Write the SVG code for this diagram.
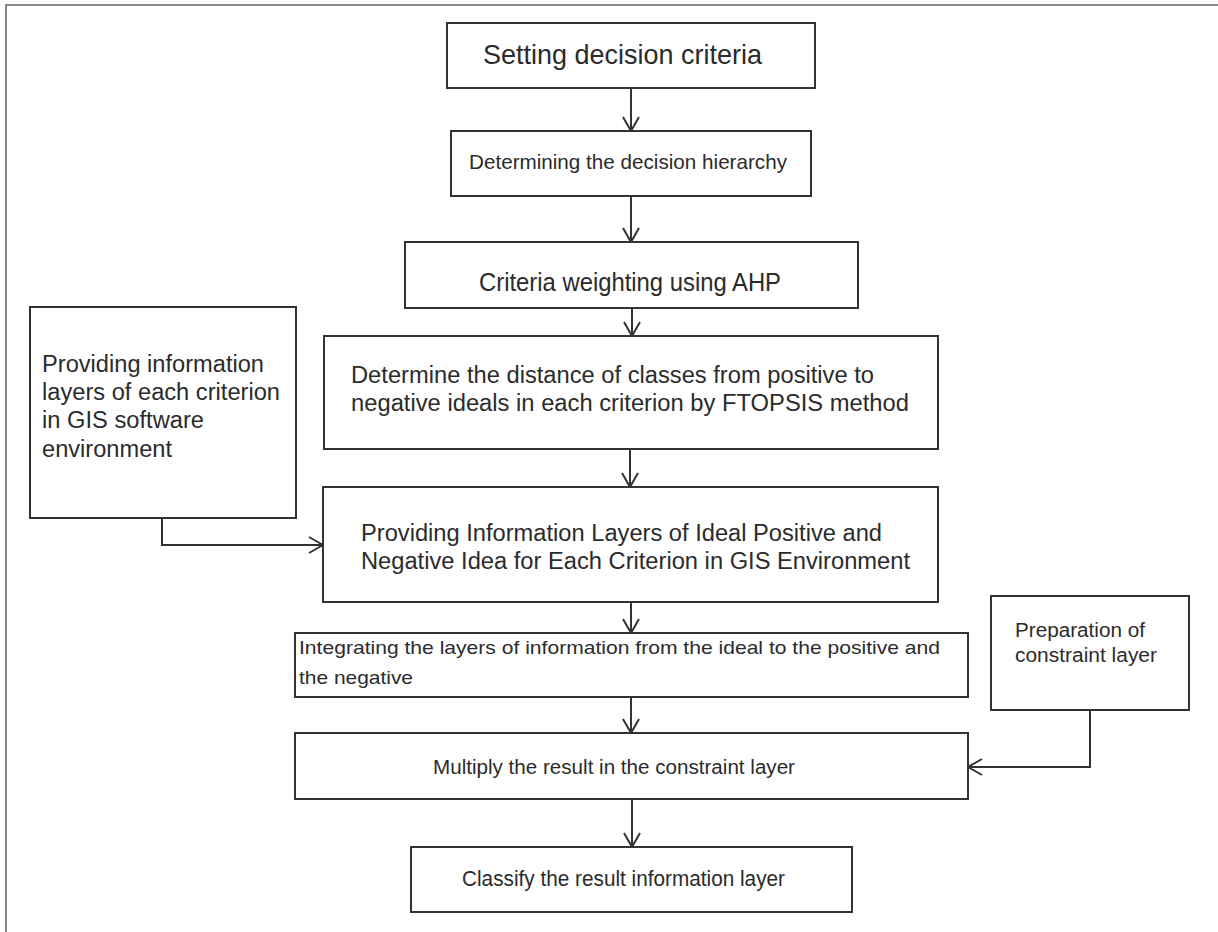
<svg xmlns="http://www.w3.org/2000/svg" width="1218" height="932" viewBox="0 0 1218 932">
<style>
.box{fill:#fff;stroke:#333;stroke-width:2}
.t{font-family:"Liberation Sans",Arial,sans-serif;fill:#2b2b2b}
.conn{fill:none;stroke:#333;stroke-width:2}
.frame{stroke:#888;stroke-width:2;fill:none}
</style>
<defs>
<marker id="arr" markerUnits="userSpaceOnUse" markerWidth="16" markerHeight="18" viewBox="0 0 16 18" refX="15" refY="9" orient="auto">
<path d="M1,1 L15,9 L1,17" fill="none" stroke="#333" stroke-width="2"/>
</marker>
</defs>
<rect width="1218" height="932" fill="#fff"/>
<path class="frame" d="M6,932 V5 H1218"/>
<g id="n1"><rect class="box" x="447" y="23" width="368" height="65"/><text class="t" x="483" y="64" font-size="28" textLength="279" lengthAdjust="spacingAndGlyphs">Setting decision criteria</text></g>
<g id="n2"><rect class="box" x="451" y="131" width="360" height="65"/><text class="t" x="469" y="169" font-size="21" textLength="318" lengthAdjust="spacingAndGlyphs">Determining the decision hierarchy</text></g>
<g id="n3"><rect class="box" x="405" y="242" width="453" height="66"/><text class="t" x="479" y="291" font-size="25" textLength="302" lengthAdjust="spacingAndGlyphs">Criteria weighting using AHP</text></g>
<g id="n4"><rect class="box" x="324" y="336" width="614" height="113"/><text class="t" font-size="23"><tspan x="351" y="383" textLength="523" lengthAdjust="spacingAndGlyphs">Determine the distance of classes from positive to</tspan><tspan x="351" y="411" textLength="558" lengthAdjust="spacingAndGlyphs">negative ideals in each criterion by FTOPSIS method</tspan></text></g>
<g id="n5"><rect class="box" x="323" y="487" width="615" height="115"/><text class="t" font-size="23.5"><tspan x="361" y="541" textLength="521" lengthAdjust="spacingAndGlyphs">Providing Information Layers of Ideal Positive and</tspan><tspan x="361" y="569" textLength="549" lengthAdjust="spacingAndGlyphs">Negative Idea for Each Criterion in GIS Environment</tspan></text></g>
<g id="nleft"><rect class="box" x="30" y="307" width="266" height="211"/><text class="t" font-size="23"><tspan x="42" y="372" textLength="222" lengthAdjust="spacingAndGlyphs">Providing information</tspan><tspan x="42" y="400" textLength="238" lengthAdjust="spacingAndGlyphs">layers of each criterion</tspan><tspan x="42" y="428" textLength="162" lengthAdjust="spacingAndGlyphs">in GIS software</tspan><tspan x="42" y="457" textLength="130" lengthAdjust="spacingAndGlyphs">environment</tspan></text></g>
<g id="n6"><rect class="box" x="295" y="633" width="673" height="64"/><text class="t" font-size="19"><tspan x="299" y="654" textLength="641" lengthAdjust="spacingAndGlyphs">Integrating the layers of information from the ideal to the positive and</tspan><tspan x="299" y="684" textLength="114" lengthAdjust="spacingAndGlyphs">the negative</tspan></text></g>
<g id="nright"><rect class="box" x="991" y="596" width="198" height="114"/><text class="t" font-size="20"><tspan x="1015" y="637" textLength="130" lengthAdjust="spacingAndGlyphs">Preparation of</tspan><tspan x="1015" y="662" textLength="142" lengthAdjust="spacingAndGlyphs">constraint layer</tspan></text></g>
<g id="n7"><rect class="box" x="295" y="733" width="673" height="66"/><text class="t" x="433" y="774" font-size="19.5" textLength="362" lengthAdjust="spacingAndGlyphs">Multiply the result in the constraint layer</text></g>
<g id="n8"><rect class="box" x="411" y="847" width="441" height="65"/><text class="t" x="462" y="886" font-size="22" textLength="323" lengthAdjust="spacingAndGlyphs">Classify the result information layer</text></g>
<g id="connectors">
<path class="conn" d="M631,88 V131" marker-end="url(#arr)"/>
<path class="conn" d="M631,196 V242" marker-end="url(#arr)"/>
<path class="conn" d="M632,308 V336" marker-end="url(#arr)"/>
<path class="conn" d="M630,449 V487" marker-end="url(#arr)"/>
<path class="conn" d="M631,602 V633" marker-end="url(#arr)"/>
<path class="conn" d="M631,697 V733" marker-end="url(#arr)"/>
<path class="conn" d="M632,799 V847" marker-end="url(#arr)"/>
<path class="conn" d="M162,518 V545 H323" marker-end="url(#arr)"/>
<path class="conn" d="M1090,710 V767 H968" marker-end="url(#arr)"/>
</g>
</svg>
